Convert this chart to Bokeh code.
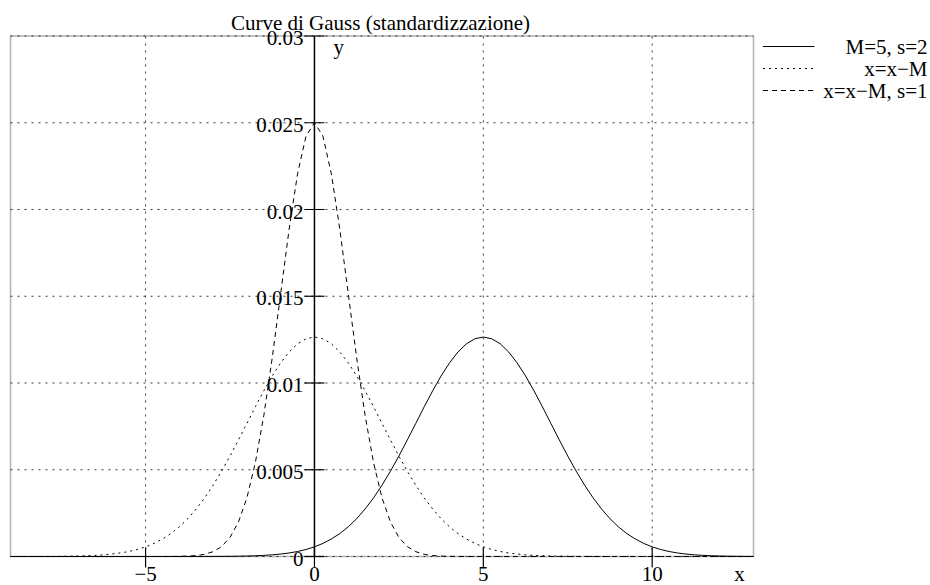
from bokeh.plotting import figure
from bokeh.models import (Range1d, LabelSet, Label, BoxAnnotation,
                          ColumnDataSource)
from bokeh.core.properties import value
from bokeh.embed import file_html
from bokeh.resources import INLINE

# ---------------- data ----------------
x_vals = [-9.0, -8.75, -8.5, -8.25, -8.0, -7.75, -7.5, -7.25, -7.0, -6.75,
          -6.5, -6.25, -6.0, -5.75, -5.5, -5.25, -5.0, -4.75, -4.5, -4.25,
          -4.0, -3.75, -3.5, -3.25, -3.0, -2.75, -2.5, -2.25, -2.0, -1.75,
          -1.5, -1.25, -1.0, -0.75, -0.5, -0.25, 0.0, 0.25, 0.5, 0.75,
          1.0, 1.25, 1.5, 1.75, 2.0, 2.25, 2.5, 2.75, 3.0, 3.25,
          3.5, 3.75, 4.0, 4.25, 4.5, 4.75, 5.0, 5.25, 5.5, 5.75,
          6.0, 6.25, 6.5, 6.75, 7.0, 7.25, 7.5, 7.75, 8.0, 8.25,
          8.5, 8.75, 9.0, 9.25, 9.5, 9.75, 10.0, 10.25, 10.5, 10.75,
          11.0, 11.25, 11.5, 11.75, 12.0, 12.25, 12.5, 12.75, 13.0]

# M=5, s=2
y_m5_s2 = [0, 0, 0, 0, 0, 0, 0, 0, 0, 0,
           0, 0, 0, 0, 0, 0, 0, 0, 0, 0,
           0.0000005, 0.0000009, 0.0000015, 0.0000025, 0.0000042, 0.0000069,
           0.0000112, 0.0000177, 0.0000277, 0.0000426, 0.0000644, 0.0000959,
           0.000141, 0.000203, 0.000288, 0.000403, 0.000556, 0.000754,
           0.00101, 0.00132, 0.00171, 0.00218, 0.00274, 0.00338, 0.00411,
           0.00492, 0.00579, 0.00672, 0.00767, 0.00863, 0.00955, 0.01041,
           0.01116, 0.01179, 0.01226, 0.01255, 0.01265,
           0.01255, 0.01226, 0.01179, 0.01116, 0.01041, 0.00955, 0.00863,
           0.00767, 0.00672, 0.00579, 0.00492, 0.00411, 0.00338, 0.00274,
           0.00218, 0.00171, 0.00132, 0.00101, 0.000754, 0.000556, 0.000403,
           0.000288, 0.000203, 0.000141, 0.0000959, 0.0000644, 0.0000426,
           0.0000277, 0.0000177, 0.0000112, 0.0000069, 0.0000042]

# x = x - M  (s=2)
y_shift = [0.0000005, 0.0000009, 0.0000015, 0.0000025, 0.0000042, 0.0000069,
           0.0000112, 0.0000177, 0.0000277, 0.0000426, 0.0000644, 0.0000959,
           0.000141, 0.000203, 0.000288, 0.000403, 0.000556, 0.000754,
           0.00101, 0.00132, 0.00171, 0.00218, 0.00274, 0.00338, 0.00411,
           0.00492, 0.00579, 0.00672, 0.00767, 0.00863, 0.00955, 0.01041,
           0.01116, 0.01179, 0.01226, 0.01255, 0.01265,
           0.01255, 0.01226, 0.01179, 0.01116, 0.01041, 0.00955, 0.00863,
           0.00767, 0.00672, 0.00579, 0.00492, 0.00411, 0.00338, 0.00274,
           0.00218, 0.00171, 0.00132, 0.00101, 0.000754, 0.000556, 0.000403,
           0.000288, 0.000203, 0.000141, 0.0000959, 0.0000644, 0.0000426,
           0.0000277, 0.0000177, 0.0000112, 0.0000069, 0.0000042, 0.0000025,
           0.0000015, 0.0000009, 0.0000005,
           0, 0, 0, 0, 0, 0, 0, 0, 0, 0, 0, 0, 0, 0, 0, 0]

# x = x - M, s=1
y_shift_s1 = [0, 0, 0, 0, 0, 0, 0, 0, 0, 0, 0, 0, 0, 0, 0, 0, 0, 0,
              0.000001, 0.000003, 0.0000084, 0.0000221, 0.0000547, 0.000127,
              0.000278, 0.000570, 0.00110, 0.00199, 0.00338, 0.00541,
              0.00812, 0.01145, 0.01516, 0.01887, 0.02206, 0.02423, 0.025,
              0.02423, 0.02206, 0.01887, 0.01516, 0.01145, 0.00812, 0.00541,
              0.00338, 0.00199, 0.00110, 0.000570, 0.000278, 0.000127,
              0.0000547, 0.0000221, 0.0000084, 0.000003, 0.000001,
              0, 0, 0, 0, 0, 0, 0, 0, 0, 0, 0, 0, 0, 0, 0, 0, 0,
              0, 0, 0, 0, 0, 0, 0, 0, 0, 0, 0, 0, 0, 0, 0, 0, 0]

x_ticks = [-5, 0, 5, 10]
x_tick_labels = ["\u22125", "0", "5", "10"]
y_ticks = [0, 0.005, 0.01, 0.015, 0.02, 0.025, 0.03]
y_tick_labels = ["0", "0.005", "0.01", "0.015", "0.02", "0.025", "0.03"]
series_labels = ["M=5, s=2", "x=x\u2212M", "x=x\u2212M, s=1"]
series_dashes = ["solid", "2 4", "5 4"]
title_text = "Curve di Gauss (standardizzazione)"

# ---------------- layout ----------------
W, H = 930, 585
# where the plot box sits on the canvas (pixels)
BL, BR, BT, BB = 10, 753, 35.5, 556
X0, X1 = -9, 13
Y0, Y1 = 0.0, 0.03
SX = (BR - BL) / (X1 - X0)      # px per x unit
SY = (BB - BT) / (Y1 - Y0)      # px per y unit
FONT_NAME = "Liberation Serif"
FONT = value(FONT_NAME)
FS = "21px"
GRID_COLOR = "#3a3a3a"


def dx(px):
    return X0 + (px - BL) / SX


def dy(py):
    return Y0 + (BB - py) / SY


p = figure(width=W, height=H,
           x_range=Range1d(dx(0), dx(W)), y_range=Range1d(dy(H), dy(0)),
           output_backend="svg", toolbar_location=None,
           x_axis_location=None, y_axis_location=None,
           min_border=0, min_border_left=0, min_border_right=0,
           min_border_top=0, min_border_bottom=0)
p.background_fill_color = "white"
p.border_fill_color = "white"
p.outline_line_color = None
p.grid.visible = False

# grid
vgrid = [t for t in x_ticks if t != 0]
p.segment(x0=vgrid, x1=vgrid, y0=Y0, y1=Y1, line_color=GRID_COLOR,
          line_width=1, line_dash="2 5")
p.segment(x0=X0, x1=X1, y0=y_ticks, y1=y_ticks, line_color=GRID_COLOR,
          line_width=1, line_dash="2 5")

# plot box
p.add_layout(BoxAnnotation(left=X0, right=X1, bottom=Y0, top=Y1,
                           fill_color=None, line_color="black",
                           line_width=1.5))

# y axis through x=0 with ticks on both sides
p.segment(x0=0, x1=0, y0=Y0, y1=Y1, line_color="black", line_width=1.5)
p.segment(x0=-10 / SX, x1=10 / SX, y0=y_ticks, y1=y_ticks,
          line_color="black", line_width=1.2)
# x ticks crossing the bottom edge
p.segment(x0=x_ticks, x1=x_ticks, y0=dy(BB + 11), y1=dy(BB - 9),
          line_color="black", line_width=1.2)

# curves
curve_series = [y_m5_s2, y_shift, y_shift_s1]
for ys, dash in zip(curve_series, series_dashes):
    p.line(x_vals, ys, line_color="black", line_width=1, line_dash=dash)

# tick labels
ysrc = ColumnDataSource(dict(y=y_ticks, text=y_tick_labels))
p.add_layout(LabelSet(source=ysrc, x=dx(303), y="y", text="text",
                      text_align="right", text_baseline="middle", y_offset=-2,
                      text_font=FONT, text_font_size=FS, text_color="black"))
xsrc = ColumnDataSource(dict(x=x_ticks, text=x_tick_labels))
p.add_layout(LabelSet(source=xsrc, x="x", y=dy(573), text="text",
                      text_align="center", text_baseline="middle",
                      text_font=FONT, text_font_size=FS, text_color="black"))

# axis names and title
p.add_layout(Label(x=dx(739), y=dy(573), text="x", text_align="center",
                   text_baseline="middle", text_font=FONT_NAME,
                   text_font_size=FS, text_color="black"))
p.add_layout(Label(x=dx(333), y=dy(46), text="y", text_align="left",
                   text_baseline="middle", text_font=FONT_NAME,
                   text_font_size=FS, text_color="black"))
p.add_layout(Label(x=dx(380), y=dy(22), text=title_text, text_align="center",
                   text_baseline="middle", text_font=FONT_NAME,
                   text_font_size=FS, text_color="black"))

# legend (outside the box, right)
rows = [46, 68, 90]
for lab, dash, ry in zip(series_labels, series_dashes, rows):
    p.line([dx(762.5), dx(814)], [dy(ry), dy(ry)], line_color="black",
           line_width=1, line_dash=dash)
    p.add_layout(Label(x=dx(927), y=dy(ry), text=lab, text_align="right",
                       text_baseline="middle", text_font=FONT_NAME,
                       text_font_size=FS, text_color="black"))

open("out.html", "w").write(file_html(p, INLINE, "plot"))
